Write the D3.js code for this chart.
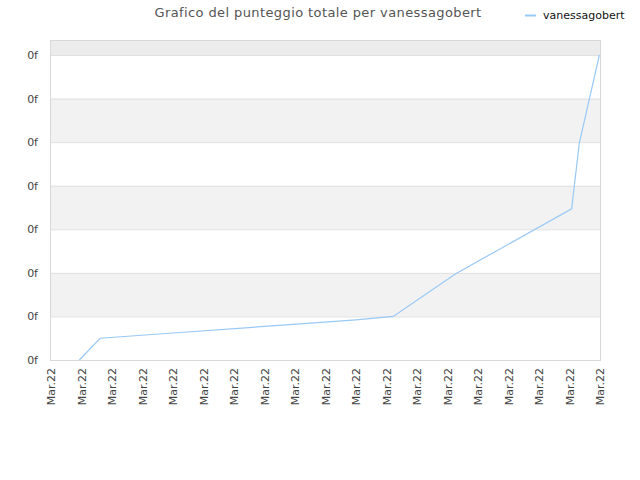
<!DOCTYPE html>
<html>
<head>
<meta charset="utf-8">
<script src="https://cdn.jsdelivr.net/npm/d3@7"></script>
<style>
  body { margin: 0; background: #fff; }
  svg { display: block; font-family: "DejaVu Sans", sans-serif; }
</style>
</head>
<body>
<svg id="chart" width="640" height="480"></svg>
<script>
// tick labels on the axes
const xTickLabels = d3.range(19).map(() => 'Mar.22');
const yTickValues = [0, 1, 2, 3, 4, 5, 6, 7];
const yTickLabel = '0f';

// series (x in tick units, y in grid units)
const seriesName = 'vanessagobert';
const seriesX = [0.93, 1.61, 4, 7, 10, 11.22, 13.27, 17.07, 17.32, 17.98];
const seriesY = [0, 0.5, 0.62, 0.77, 0.92, 1.0, 1.98, 3.47, 4.97, 7];

const W = 640, H = 480;
const margin = { top: 55, right: 40, bottom: 120, left: 51 };
const svg = d3.select('#chart');

const x = d3.scaleLinear().domain([0, 18]).range([margin.left, W - margin.right]);
const y = d3.scaleLinear().domain([0, 7]).range([H - margin.bottom, margin.top]);

// top band above highest gridline
svg.append('rect')
  .attr('x', x(0)).attr('y', 40)
  .attr('width', x(18) - x(0)).attr('height', y(7) - 40)
  .attr('fill', '#ececec');

// alternating bands
yTickValues.slice(0, -1).forEach(v => {
  svg.append('rect')
    .attr('x', x(0)).attr('y', y(v + 1))
    .attr('width', x(18) - x(0)).attr('height', y(v) - y(v + 1))
    .attr('fill', v % 2 === 1 ? '#f2f2f2' : '#fff');
});

// gridlines
svg.append('g').selectAll('line')
  .data(yTickValues)
  .join('line')
  .attr('x1', x(0)).attr('x2', x(18))
  .attr('y1', d => y(d) + 0.5).attr('y2', d => y(d) + 0.5)
  .attr('stroke', '#e0e0e0');

// frame
svg.append('rect')
  .attr('x', x(0) - 0.5).attr('y', 40.5)
  .attr('width', x(18) - x(0) + 1).attr('height', y(0) - 40)
  .attr('fill', 'none')
  .attr('stroke', '#d8d8d8');

// y labels
svg.append('g').selectAll('text')
  .data(yTickValues)
  .join('text')
  .attr('x', 38).attr('y', d => y(d) + 4)
  .attr('text-anchor', 'end')
  .attr('font-size', 11)
  .attr('fill', '#444')
  .text(yTickLabel);

// x labels, rotated
svg.append('g').selectAll('text')
  .data(xTickLabels)
  .join('text')
  .attr('transform', (d, i) => `translate(${x(i) + 4},${y(0) + 8}) rotate(-90)`)
  .attr('text-anchor', 'end')
  .attr('font-size', 11)
  .attr('fill', '#444')
  .text(d => d);

// series line
const pts = seriesX.map((v, i) => [v, seriesY[i]]);
svg.append('path')
  .datum(pts)
  .attr('d', d3.line().x(d => x(d[0])).y(d => y(d[1])))
  .attr('fill', 'none')
  .attr('stroke', '#99c9f7')
  .attr('stroke-width', 1.2);

// title
svg.append('text')
  .attr('x', 318).attr('y', 17)
  .attr('text-anchor', 'middle')
  .attr('font-size', 13)
  .attr('fill', '#555')
  .attr('letter-spacing', 0.4)
  .text('Grafico del punteggio totale per ' + seriesName);

// legend
svg.append('line')
  .attr('x1', 525).attr('x2', 536)
  .attr('y1', 15.5).attr('y2', 15.5)
  .attr('stroke', '#99c9f7').attr('stroke-width', 2);
svg.append('text')
  .attr('x', 543).attr('y', 19)
  .attr('font-size', 11)
  .attr('fill', '#111')
  .text(seriesName);
</script>
</body>
</html>
